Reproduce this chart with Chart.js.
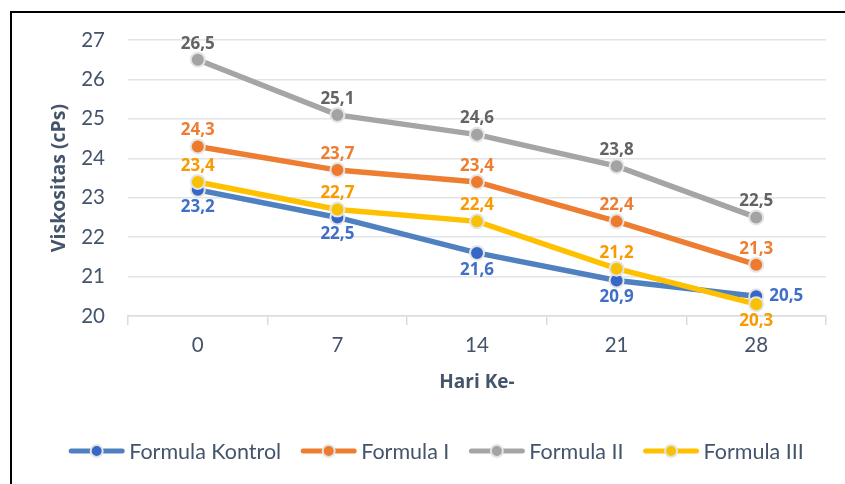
<!DOCTYPE html>
<html>
<head>
<meta charset="utf-8">
<script src="https://cdn.jsdelivr.net/npm/chart.js@4.4.1/dist/chart.umd.min.js"></script>
<style>
  html, body { margin: 0; padding: 0; background: #fff; }
  #wrap { position: relative; width: 845px; height: 484px; overflow: hidden; }
  #frame { position: absolute; left: 10px; top: 11px; width: 900px; height: 600px;
           border-top: 2px solid #000; border-left: 2px solid #000; pointer-events: none; }
  canvas { position: absolute; left: 0; top: 0; }
</style>
</head>
<body>
<div id="wrap">
  <canvas id="c" width="845" height="484"></canvas>
  <div id="frame"></div>
</div>
<script>
const categories = ['0', '7', '14', '21', '28'];
const seriesNames = ['Formula Kontrol', 'Formula I', 'Formula II', 'Formula III'];
const kontrol = [23.2, 22.5, 21.6, 20.9, 20.5];
const formula1 = [24.3, 23.7, 23.4, 22.4, 21.3];
const formula2 = [26.5, 25.1, 24.6, 23.8, 22.5];
const formula3 = [23.4, 22.7, 22.4, 21.2, 20.3];
const yTicks = [20, 21, 22, 23, 24, 25, 26, 27];
// label placement for each point
const labelPos = [
  ['below', 'below', 'below', 'below', 'right'],
  ['above', 'above', 'above', 'above', 'above'],
  ['above', 'above', 'above', 'above', 'above'],
  ['above', 'above', 'above', 'above', 'below']
];

const lineColors = ['#4F81C0', '#ED7D31', '#A5A5A5', '#FFC000'];
const pointColors = ['#3566C8', '#EE7A2E', '#A3A3A3', '#F7C108'];
const labelColors = ['#3F6FC6', '#EE7D31', '#636363', '#F99A00'];
const FONT = 'Lato, "Open Sans", sans-serif';
const BFONT = '"Open Sans", Lato, sans-serif';
const TEXT = '#44546A';

const values = [kontrol, formula1, formula2, formula3];

const datasets = values.map((v, i) => ({
  label: seriesNames[i],
  data: v,
  borderColor: lineColors[i],
  backgroundColor: pointColors[i],
  borderWidth: 5.5,
  pointRadius: 7,
  pointHoverRadius: 7,
  pointBackgroundColor: pointColors[i],
  pointBorderColor: '#E4E4E4',
  pointBorderWidth: 2,
  tension: 0,
  order: 4 - i
}));

const dataLabels = {
  id: 'dataLabels',
  afterDatasetsDraw(chart) {
    const ctx = chart.ctx;
    ctx.save();
    ctx.font = 'bold 17px ' + BFONT;
    chart.data.datasets.forEach((ds, i) => {
      const meta = chart.getDatasetMeta(i);
      meta.data.forEach((pt, j) => {
        const txt = ds.data[j].toFixed(1).replace('.', ',');
        const pos = labelPos[i][j];
        ctx.fillStyle = labelColors[i];
        ctx.textBaseline = 'middle';
        let x = pt.x, y = pt.y;
        if (pos === 'above') { ctx.textAlign = 'center'; y -= 16; }
        else if (pos === 'below') { ctx.textAlign = 'center'; y += 17; }
        else { ctx.textAlign = 'left'; x += 13; }
        ctx.fillText(txt, x, y);
      });
    });
    ctx.restore();
  }
};

const customLegend = {
  id: 'customLegend',
  afterDraw(chart) {
    const ctx = chart.ctx;
    ctx.save();
    ctx.font = '21.5px ' + FONT;
    const lineW = 57, gapText = 4, gapItem = 19;
    const items = chart.data.datasets.map((ds, i) => ({
      ds, i, tw: ctx.measureText(ds.label).width
    }));
    let total = 0;
    items.forEach((it, k) => { total += lineW + gapText + it.tw + (k < items.length - 1 ? gapItem : 0); });
    let x = 436 - total / 2;
    const y = 451;
    items.forEach(it => {
      ctx.strokeStyle = lineColors[it.i];
      ctx.lineWidth = 5;
      ctx.lineCap = 'round';
      ctx.beginPath();
      ctx.moveTo(x + 3, y);
      ctx.lineTo(x + lineW - 3, y);
      ctx.stroke();
      ctx.beginPath();
      ctx.arc(x + lineW / 2, y, 6, 0, Math.PI * 2);
      ctx.fillStyle = pointColors[it.i];
      ctx.fill();
      ctx.lineWidth = 2;
      ctx.strokeStyle = '#E4E4E4';
      ctx.stroke();
      ctx.fillStyle = TEXT;
      ctx.textAlign = 'left';
      ctx.textBaseline = 'middle';
      ctx.fillText(it.ds.label, x + lineW + gapText, y + 1);
      x += lineW + gapText + it.tw + gapItem;
    });
    ctx.restore();
  }
};

new Chart(document.getElementById('c'), {
  type: 'line',
  data: { labels: categories, datasets },
  options: {
    responsive: false,
    animation: false,
    events: [],
    layout: { padding: { left: 40, right: 19, top: 40, bottom: 80 } },
    plugins: {
      legend: { display: false },
      tooltip: { enabled: false }
    },
    scales: {
      x: {
        type: 'category',
        offset: true,
        grid: { display: true, drawOnChartArea: false, drawTicks: true, tickLength: 9,
                color: '#D9DCE1', lineWidth: 1.5, offset: true },
        border: { display: true, color: '#D9DCE1', width: 1.5 },
        ticks: { color: TEXT, font: { family: FONT, size: 20.5 }, padding: 8 },
        title: { display: true, text: 'Hari Ke-', color: TEXT,
                 font: { family: BFONT, size: 19, weight: 'bold' }, padding: { top: 0, bottom: 10 } },
        afterFit(scale) { scale.height = 88; }
      },
      y: {
        min: 20, max: 27,
        afterBuildTicks(scale) { scale.ticks = yTicks.map(v => ({ value: v })); },
        grid: { color: '#E1E4E9', lineWidth: 1.5, drawTicks: false },
        border: { display: false },
        ticks: { color: TEXT, font: { family: FONT, size: 20.5 }, padding: 23 },
        title: { display: true, text: 'Viskositas (cPs)', color: TEXT,
                 font: { family: BFONT, size: 19.5, weight: 'bold' }, padding: { top: 8, bottom: 0 } },
        afterFit(scale) { scale.width = 88; }
      }
    }
  },
  plugins: [dataLabels, customLegend]
});
</script>
</body>
</html>
